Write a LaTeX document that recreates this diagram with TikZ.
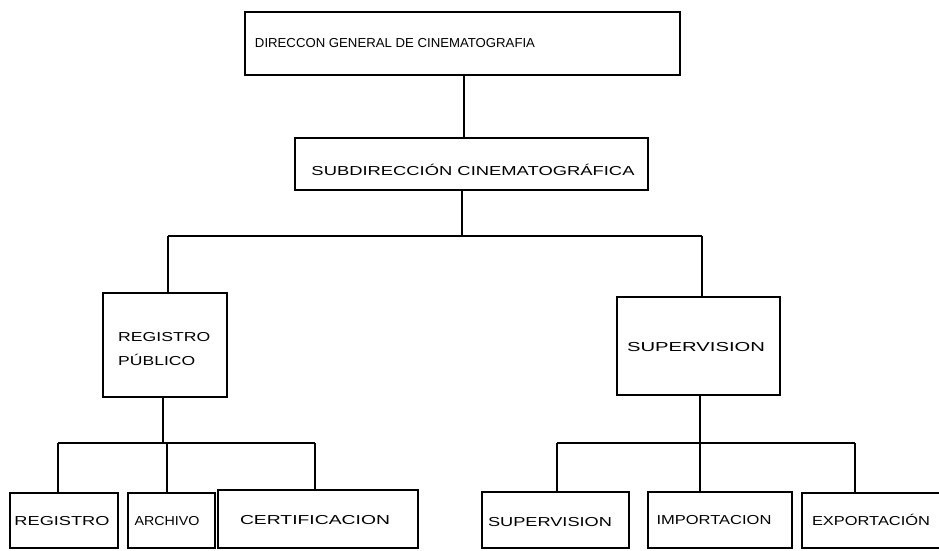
\documentclass[tikz,border=0pt]{standalone}
\usepackage{fontspec}
\usepackage{graphicx}
\setmainfont{Liberation Sans}
% set a label at a fixed width, keeping its height
\newcommand{\wtext}[2]{\resizebox{#1pt}{\height}{#2}}
\begin{document}
\begin{tikzpicture}[x=1pt,y=-1pt,
  box/.style={draw,line width=1.3pt,rectangle,inner sep=0pt},
  wire/.style={line width=1.3pt},
  lbl/.style={inner sep=0pt,font=\fontsize{13}{15}\selectfont}]
\useasboundingbox[fill=white] (0,0) rectangle (939,551);

% boxes
\node[box,minimum width=435pt,minimum height=63pt] (dg) at (462.5,43.5) {};
\node[box,minimum width=353pt,minimum height=52pt] (sub) at (471.5,164) {};
\node[box,minimum width=124pt,minimum height=104pt] (rp) at (165,345) {};
\node[box,minimum width=163pt,minimum height=98pt] (sv) at (698.5,346) {};
\node[box,minimum width=108pt,minimum height=55pt] (reg) at (64,520.5) {};
\node[box,minimum width=87pt,minimum height=55pt] (arc) at (171.5,520.5) {};
\node[box,minimum width=200pt,minimum height=58pt] (cer) at (318,519) {};
\node[box,minimum width=147pt,minimum height=56pt] (svb) at (555.5,520) {};
\node[box,minimum width=144pt,minimum height=56pt] (imp) at (720,520) {};
\node[box,minimum width=143pt,minimum height=55pt] (exp) at (873.5,520.5) {};

% labels
\node[lbl] (tdg) at (395,43) {\wtext{280}{DIRECCON GENERAL DE CINEMATOGRAFIA}};
\node[lbl] (tsub) at (473,170) {\wtext{323}{SUBDIRECCIÓN CINEMATOGRÁFICA}};
\node[lbl,anchor=west] (trp1) at (118,337) {\wtext{92}{REGISTRO}};
\node[lbl,anchor=west] (trp2) at (118,360) {\wtext{77}{PÚBLICO}};
\node[lbl] (tsv) at (696,347) {\wtext{138}{SUPERVISION}};
\node[lbl] (treg) at (62,521) {\wtext{95}{REGISTRO}};
\node[lbl] (tarc) at (167,521) {\wtext{65}{ARCHIVO}};
\node[lbl] (tcer) at (315,520) {\wtext{150}{CERTIFICACION}};
\node[lbl] (tsvb) at (550,522) {\wtext{124}{SUPERVISION}};
\node[lbl] (timp) at (714,520) {\wtext{115}{IMPORTACION}};
\node[lbl] (texp) at (871,520) {\wtext{118}{EXPORTACIÓN}};

% junction points
\coordinate (j0) at (462,236);
\coordinate (jl) at (168,236);
\coordinate (jr) at (702,236);
\coordinate (k0) at (163,443);
\coordinate (kl) at (58,443);
\coordinate (kr) at (315,443);
\coordinate (m0) at (700,443);
\coordinate (ml) at (557,443);
\coordinate (mr) at (855,443);

% connectors
\draw[wire] ([xshift=1.5pt]dg.south) -- ([xshift=-7.5pt]sub.north);
\draw[wire] ([xshift=-9.5pt]sub.south) -- (j0);
\draw[wire] (jl) -- (jr);
\draw[wire] (jl) -- (jl |- rp.north);
\draw[wire] (jr) -- (jr |- sv.north);
\draw[wire] (k0 |- rp.south) -- (k0);
\draw[wire] (kl) -- (kr);
\draw[wire] (kl) -- (kl |- reg.north);
\draw[wire] ([xshift=-4.5pt]k0 -| arc.north) -- ([xshift=-4.5pt]arc.north);
\draw[wire] (kr) -- (kr |- cer.north);
\draw[wire] (m0 |- sv.south) -- (m0);
\draw[wire] (ml) -- (mr);
\draw[wire] (ml) -- (ml |- svb.north);
\draw[wire] (m0) -- (m0 |- imp.north);
\draw[wire] (mr) -- (mr |- exp.north);
\end{tikzpicture}
\end{document}
